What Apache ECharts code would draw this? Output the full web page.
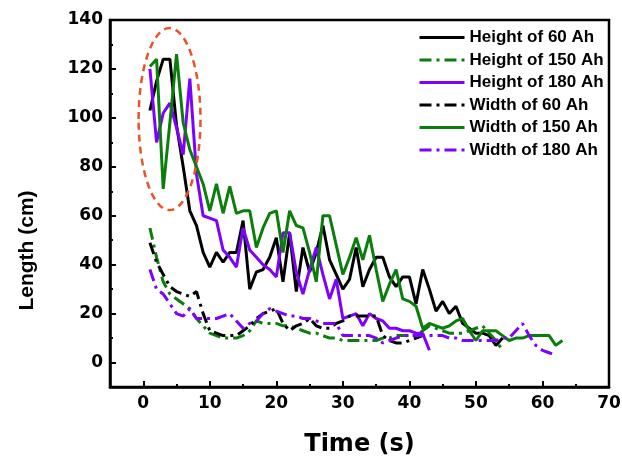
<!DOCTYPE html>
<html>
<head>
<meta charset="utf-8">
<script src="https://cdn.jsdelivr.net/npm/echarts@6/dist/echarts.min.js"></script>
<style>
  html, body { margin: 0; padding: 0; background: #fff; }
  #lengthchart { width: 622px; height: 458px; }
</style>
</head>
<body>
<div id="lengthchart"></div>
<script>
// time in seconds, one reading per second starting at t = 1
var height60 = [103, 115, 124, 124, 97, 80, 62, 56, 45, 39, 45, 41, 45, 45, 58, 30, 37, 38, 43, 51,
                33, 53, 29, 47, 37, 45, 56, 42, 36, 30, 34, 47, 31, 38, 43, 43, 35, 31, 35, 35,
                24, 38, 30, 21, 25, 20, 23, 16, 14, 12, 12, 11, 7, 10];
var height150 = [55, 43, 33, 28, 26, 24, 22, 18, 15, 12, 11, 10, 10, 10, 11, 13, 17, 16, 16, 16,
                 15, 15, 14, 13, 12, 12, 11, 10, 10, 9, 9, 9, 9, 9, 9, 10, 10, 11, 11, 11,
                 11, 13, 15, 14, 13, 12, 12, 12, 13, 14, 15, 12, 9, 5];
var height180 = [120, 90, 102, 106, 96, 85, 116, 77, 60, 59, 58, 46, 43, 39, 55, 46, 43, 40, 38, 35,
                 53, 53, 37, 28, 38, 47, 36, 26, 34, 18, 19, 20, 15, 20, 18, 17, 14, 14, 13, 13,
                 12, 12, 5];
var width60 = [49, 41, 36, 31, 29, 28, 27, 29, 20, 13, 12, 11, 11, 11, 13, 15, 18, 20, 21, 22,
               16, 13, 15, 16, 18, 15, 14, 14, 16, 17, 19, 19, 19, 19, 19, 11, 9, 8, 8, 9,
               10, 11];
var width150 = [121, 124, 71, 98, 126, 98, 87, 80, 73, 62, 73, 61, 72, 61, 62, 62, 47, 55, 61, 62,
                45, 62, 56, 55, 45, 33, 60, 60, 48, 36, 43, 51, 42, 52, 38, 25, 32, 38, 26, 25,
                23, 14, 16, 15, 14, 15, 17, 18, 13, 9, 13, 13, 13, 11, 9, 10, 10, 11, 11, 11,
                11, 7, 9];
var width180 = [38, 30, 28, 24, 20, 19, 22, 18, 18, 18, 18, 19, 20, 17, 14, 16, 17, 20, 22, 21,
                20, 19, 19, 18, 18, 17, 16, 16, 16, 11, 11, 11, 11, 11, 10, 8, 9, 10, 11, 11,
                11, 11, 11, 11, 11, 10, 10, 9, 9, 9, 9, 9, 9, 10, 10, 13, 16, 11, 7, 5,
                4, 3];

var seriesNames = ['Height of 60 Ah', 'Height of 150 Ah', 'Height of 180 Ah',
                   'Width of 60 Ah', 'Width of 150 Ah', 'Width of 180 Ah'];
var xMajor = [0, 10, 20, 30, 40, 50, 60, 70];
var xMinor = [5, 15, 25, 35, 45, 55, 65];
var yMajor = [0, 20, 40, 60, 80, 100, 120, 140];
var yMinor = [10, 30, 50, 70, 90, 110, 130];

// dashed ring around the first seconds (centre and half-sizes in data units)
var ring = { t: 3.95, len: 99.5, dt: 4.65, dlen: 37.2 };

var BLACK = '#000000', GREEN = '#0a7e0a', PURPLE = '#8000ff';
var dashDot = [12, 5, 3, 5];

function toPoints(arr) {
    return arr.map(function (v, i) { return [i + 1, v]; });
}

function makeLine(name, arr, color, dashed) {
    return {
        name: name,
        type: 'line',
        data: toPoints(arr),
        symbol: 'none',
        color: color,
        lineStyle: { color: color, width: 3, type: dashed ? dashDot : 'solid' },
        animation: false
    };
}

var chart = document.getElementById('lengthchart');
var myChart = echarts.init(chart, null, { renderer: 'canvas' });

var tickFont = { fontFamily: 'DejaVu Sans', fontWeight: 'bold', fontSize: 17, color: '#000' };

var option = {
    backgroundColor: '#fff',
    grid: {
        left: 110, right: 13, top: 20, bottom: 71,
        outerBoundsMode: 'none',
        show: true, borderColor: '#000', borderWidth: 2.5
    },
    legend: {
        orient: 'vertical',
        left: 413,
        top: 24,
        itemWidth: 45,
        itemHeight: 14,
        itemGap: 5.5,
        data: seriesNames,
        itemStyle: { opacity: 0 },
        lineStyle: { width: 3 },
        textStyle: { fontFamily: 'Liberation Sans', fontWeight: 'bold', fontSize: 17, color: '#000' }
    },
    xAxis: [
        {
            type: 'value', min: -5, max: 70, position: 'bottom',
            name: 'Time (s)', nameLocation: 'middle', nameGap: 46,
            nameTextStyle: { fontFamily: 'DejaVu Sans', fontWeight: 'bold', fontSize: 24, color: '#000' },
            axisLine: { onZero: false, lineStyle: { color: '#000', width: 2.5 } },
            axisTick: { inside: true, length: 6, customValues: xMajor, lineStyle: { color: '#000', width: 2 } },
            axisLabel: Object.assign({ customValues: xMajor, margin: 8 }, tickFont),
            splitLine: { show: false }
        },
        {
            type: 'value', min: -5, max: 70, position: 'bottom',
            axisLine: { show: false, onZero: false },
            axisTick: { inside: true, length: 3, customValues: xMinor, lineStyle: { color: '#000', width: 2 } },
            axisLabel: { show: false },
            splitLine: { show: false }
        }
    ],
    yAxis: [
        {
            type: 'value', min: -10, max: 140, position: 'left',
            name: 'Length (cm)', nameLocation: 'middle', nameGap: 72,
            nameTextStyle: {
                fontFamily: 'Liberation Sans', fontWeight: 'bold',
                fontSize: 21, color: '#000', padding: [0, 94, 0, 0]
            },
            axisLine: { onZero: false, lineStyle: { color: '#000', width: 2.5 } },
            axisTick: { inside: true, length: 6, customValues: yMajor, lineStyle: { color: '#000', width: 2 } },
            axisLabel: Object.assign({ customValues: yMajor, margin: 7 }, tickFont),
            splitLine: { show: false }
        },
        {
            type: 'value', min: -10, max: 140, position: 'left',
            axisLine: { show: false, onZero: false },
            axisTick: { inside: true, length: 3, customValues: yMinor, lineStyle: { color: '#000', width: 2 } },
            axisLabel: { show: false },
            splitLine: { show: false }
        }
    ],
    series: [
        makeLine(seriesNames[0], height60, BLACK, false),
        makeLine(seriesNames[1], height150, GREEN, true),
        makeLine(seriesNames[2], height180, PURPLE, false),
        makeLine(seriesNames[3], width60, BLACK, true),
        makeLine(seriesNames[4], width150, GREEN, false),
        makeLine(seriesNames[5], width180, PURPLE, true)
    ]
};

myChart.setOption(option);

var c = myChart.convertToPixel({ gridIndex: 0 }, [ring.t, ring.len]);
var e = myChart.convertToPixel({ gridIndex: 0 }, [ring.t + ring.dt, ring.len + ring.dlen]);
myChart.setOption({
    graphic: [{
        type: 'ellipse',
        shape: { cx: c[0], cy: c[1], rx: e[0] - c[0], ry: c[1] - e[1] },
        style: { fill: 'none', stroke: '#e9532b', lineWidth: 2.5, lineDash: [7, 5] },
        z: 10
    }]
});
</script>
</body>
</html>
